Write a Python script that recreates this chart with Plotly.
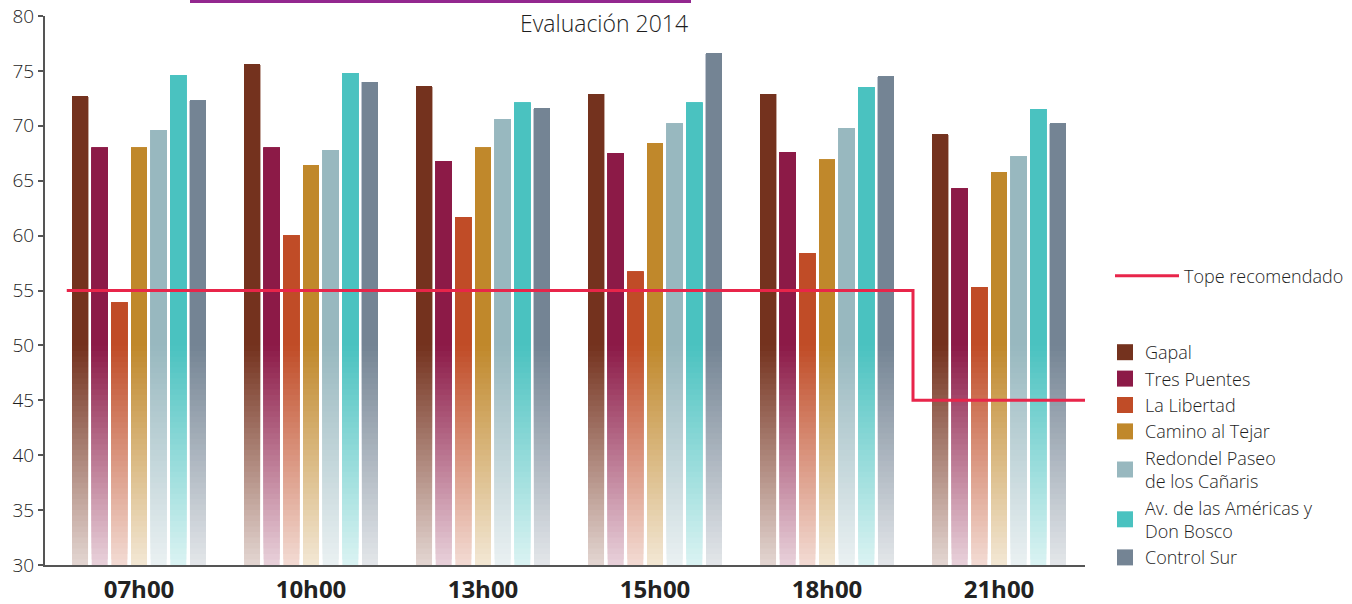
import plotly.graph_objects as go

# Hours of measurement (x categories)
horas = ["07h00", "10h00", "13h00", "15h00", "18h00", "21h00"]

# Noise level per station, dB(A)
gapal = [72.7, 75.6, 73.6, 72.9, 72.9, 69.2]
tres_puentes = [68.0, 68.0, 66.8, 67.5, 67.6, 64.3]
la_libertad = [53.9, 60.0, 61.7, 56.7, 58.4, 55.3]
camino_tejar = [68.0, 66.4, 68.0, 68.4, 66.9, 65.8]
redondel_canaris = [69.6, 67.8, 70.6, 70.2, 69.8, 67.2]
americas_bosco = [74.6, 74.8, 72.1, 72.1, 73.5, 71.5]
control_sur = [72.3, 74.0, 71.6, 76.6, 74.5, 70.2]

estaciones = [
    "Gapal", "Tres Puentes", "La Libertad", "Camino al Tejar",
    "Redondel Paseo<br>de los Cañaris", "Av. de las Américas y<br>Don Bosco", "Control Sur",
]
series = [gapal, tres_puentes, la_libertad, camino_tejar,
          redondel_canaris, americas_bosco, control_sur]
colores = ["#74321e", "#8c1a47", "#c04c27", "#c0882b", "#98b8bf", "#4ac2c0", "#748494"]

# Recommended limit: 55 dB by day, 45 dB from 21h00
tope_x = [-0.42, 4.5, 5.5]
tope_y = [55, 45, 45]

Y_MIN, Y_MAX = 30, 80
FADE_TOP = 50          # bars are solid above this level and fade towards the base
FADE_STEPS = 40
FADE_MIN = 0.2

FONT = "Open Sans"
TEXT = "#1e1e1e"
AXIS = "#555555"


def hex_rgb(h):
    h = h.lstrip("#")
    return tuple(int(h[i:i + 2], 16) for i in (0, 2, 4))


def tint(h, f):
    r, g, b = hex_rgb(h)
    mix = lambda c: round(c * f + 255 * (1 - f))
    return f"rgb({mix(r)},{mix(g)},{mix(b)})"


x_pos = list(range(len(horas)))
fig = go.Figure()

step = (FADE_TOP - Y_MIN) / FADE_STEPS
for name, vals, col in zip(estaciones, series, colores):
    # overlapping layers: each starts higher and runs to the bar top
    for k in range(FADE_STEPS + 1):
        base = Y_MIN + k * step
        if k < FADE_STEPS:
            f = FADE_MIN + (1 - FADE_MIN) * (k + 0.5) / FADE_STEPS
            c = tint(col, f)
        else:
            c = col
        fig.add_trace(go.Bar(
            x=x_pos, y=[v - base for v in vals], base=[base] * len(vals),
            offsetgroup=name, marker=dict(color=c, line=dict(width=0)),
            showlegend=False, hoverinfo="skip", name=name,
        ))

fig.add_trace(go.Scatter(
    x=tope_x, y=tope_y, mode="lines", line=dict(color="#e8254a", width=3, shape="hv"),
    name="Tope recomendado", legend="legend", hoverinfo="skip",
))

for name, col in zip(estaciones, colores):
    fig.add_trace(go.Scatter(
        x=[None], y=[None], mode="markers", name=name, legend="legend2",
        marker=dict(symbol="square", size=16, color=col),
    ))

x_range = [-0.5 - 8 / 172, len(horas) - 0.5]

fig.update_layout(
    width=1352, height=604,
    margin=dict(l=45, r=267, t=16, b=39, autoexpand=False),
    plot_bgcolor="white", paper_bgcolor="white",
    barmode="group", bargap=0.2, bargroupgap=0.187,
    font=dict(family=FONT, size=19, color=TEXT, weight=300),
    xaxis=dict(
        range=x_range, tickmode="array", tickvals=x_pos, ticktext=horas,
        ticks="", showgrid=False, zeroline=False, automargin=False,
        showline=True, linecolor=AXIS, linewidth=2,
        tickfont=dict(family=FONT, size=24, color="#222222", weight=700),
        ticklabelstandoff=2,
    ),
    xaxis2=dict(
        overlaying="x", anchor="y", range=x_range, tickmode="array",
        tickvals=[i + 0.5 for i in x_pos], ticks="inside", ticklen=14,
        tickwidth=2, tickcolor=AXIS, showticklabels=False, automargin=False,
        showgrid=False, zeroline=False, showline=False,
    ),
    yaxis=dict(
        range=[Y_MIN, Y_MAX], tickmode="array", tickvals=list(range(30, 81, 5)),
        ticks="outside", ticklen=5, tickwidth=2, tickcolor=AXIS,
        showline=True, linecolor=AXIS, linewidth=2, automargin=False,
        showgrid=False, zeroline=False,
        tickfont=dict(family=FONT, size=19, color=TEXT, weight=300),
    ),
    yaxis2=dict(
        overlaying="y", anchor="x", side="left", range=[Y_MIN, Y_MAX],
        tickmode="array", tickvals=list(range(30, 81, 5)), automargin=False,
        ticks="inside", ticklen=7, tickwidth=2, tickcolor=AXIS,
        showticklabels=False, showgrid=False, zeroline=False, showline=False,
    ),
    legend=dict(
        xref="container", yref="container", x=1110 / 1352, y=1 - 276 / 604,
        xanchor="left", yanchor="middle", itemwidth=64,
        font=dict(family=FONT, size=18, color=TEXT, weight=300),
        bgcolor="rgba(0,0,0,0)",
    ),
    legend2=dict(
        xref="container", yref="container", x=1105 / 1352, y=1 - 334 / 604,
        xanchor="left", yanchor="top", itemwidth=30, tracegroupgap=0,
        font=dict(family=FONT, size=18, color=TEXT, weight=300),
        bgcolor="rgba(0,0,0,0)",
    ),
    annotations=[dict(
        text="Evaluación 2014", xref="paper", yref="paper",
        x=(690 - 45) / 1040, y=(565 - 23) / 549, xanchor="right", yanchor="middle",
        showarrow=False, font=dict(family=FONT, size=23, color=TEXT, weight=300),
    )],
    shapes=[dict(
        type="line", xref="paper", yref="paper",
        x0=(190 - 45) / 1040, x1=(691 - 45) / 1040,
        y0=(565 - 1.5) / 549, y1=(565 - 1.5) / 549,
        line=dict(color="#93278f", width=3),
    )],
)

fig.write_html("out.html")
